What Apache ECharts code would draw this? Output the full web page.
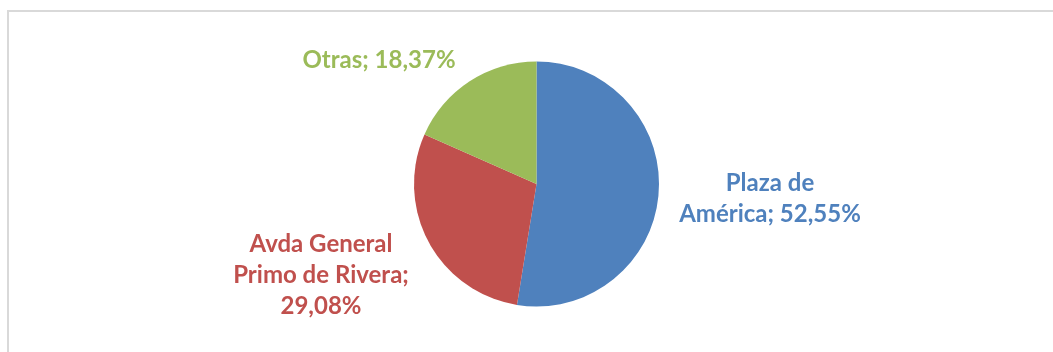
<!DOCTYPE html>
<html>
<head>
<meta charset="utf-8">
<script src="https://cdn.jsdelivr.net/npm/echarts@6/dist/echarts.min.js"></script>
<style>
  html, body { margin: 0; padding: 0; background: #fff; }
  #chart { width: 1053px; height: 352px; }
</style>
</head>
<body>
<div id="chart"></div>
<script>
  // datos del gráfico
  const categories = ['Plaza de América', 'Avda General Primo de Rivera', 'Otras']
  const values = [52.55, 29.08, 18.37]
  const colors = ['#4F81BD', '#C0504D', '#9BBB59']

  // etiquetas tal como salen en el original (con saltos de línea)
  const labelText = {
    'Plaza de América': 'Plaza de\nAmérica; ',
    'Avda General Primo de Rivera': 'Avda General\nPrimo de Rivera;\n',
    'Otras': 'Otras; '
  }
  // donde va cada etiqueta
  const labelPos = [[770, 199], [321, 275], [379, 60]]

  const chart = echarts.init(document.getElementById('chart'))

  chart.setOption({
    animation: false,
    graphic: [{
      type: 'rect',
      shape: { x: 8, y: 11, width: 1100, height: 400 },
      style: { fill: 'none', stroke: '#d9d9d9', lineWidth: 2 }
    }],
    series: [{
      type: 'pie',
      center: [536.5, 184],
      radius: 122.5,
      startAngle: 90,
      clockwise: true,
      data: categories.map(function (c, i) {
        return {
          name: c,
          value: values[i],
          itemStyle: { color: colors[i] },
          label: { color: colors[i] }
        }
      }),
      label: {
        show: true,
        position: 'outside',
        fontFamily: 'Lato',
        fontWeight: 'bold',
        fontSize: 24,
        lineHeight: 31,
        align: 'center',
        formatter: function (p) {
          return labelText[p.name] + p.value.toFixed(2).replace('.', ',') + '%'
        }
      },
      labelLine: { show: false },
      labelLayout: function (p) {
        return {
          x: labelPos[p.dataIndex][0],
          y: labelPos[p.dataIndex][1],
          align: 'center',
          verticalAlign: 'middle'
        }
      },
      itemStyle: { borderWidth: 0 },
      emphasis: { disabled: true }
    }]
  })
</script>
</body>
</html>
